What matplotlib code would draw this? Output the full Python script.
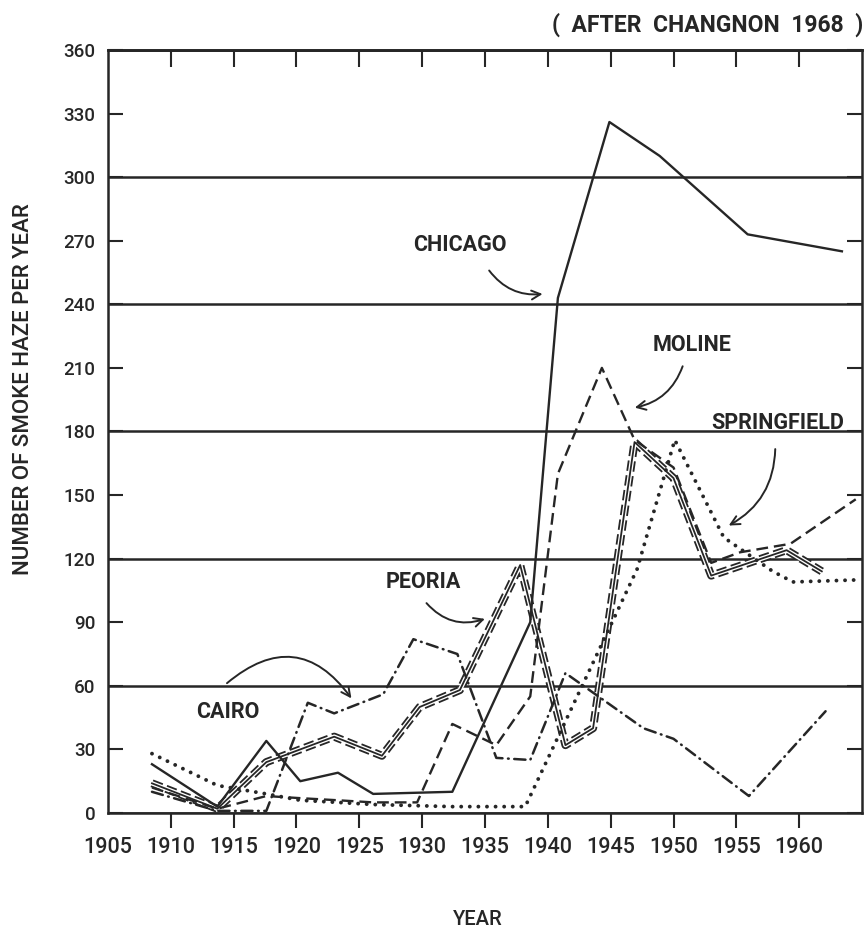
import matplotlib
matplotlib.use("Agg")
import matplotlib.pyplot as plt
from matplotlib.ticker import MultipleLocator

# smoke haze days per year
chicago_years = [1908.5, 1913.7, 1917.6, 1920.3, 1923.3, 1926.1, 1932.4, 1938.6, 1940.8, 1944.9, 1948.9, 1955.9, 1963.4]
chicago = [23, 3, 34, 15, 19, 9, 10, 90, 243, 326, 310, 273, 265]

moline_years = [1908.5, 1913.7, 1917.6, 1920.3, 1923.3, 1926.1, 1929.6, 1932.4, 1935.9, 1938.6, 1940.8, 1944.3, 1946.9, 1950.0, 1953.0, 1955.3, 1959.3, 1964.5]
moline = [12, 2, 8, 7, 6, 5, 5, 42, 32, 55, 160, 210, 176, 163, 118, 123, 127, 148]

peoria_years = [1908.5, 1913.7, 1917.6, 1920.3, 1923.0, 1926.8, 1929.8, 1933.0, 1937.8, 1941.4, 1943.6, 1946.9, 1950.0, 1953.0, 1959.0, 1961.8]
peoria = [14, 2, 24, 30, 36, 27, 50, 58, 117, 32, 40, 175, 158, 112, 124, 114]

springfield_years = [1908.5, 1913.7, 1917.6, 1920.3, 1923.3, 1926.1, 1932.4, 1938.2, 1947.1, 1950.1, 1954.0, 1957.9, 1959.5, 1964.8]
springfield = [28, 13, 9, 6, 5, 4, 3, 3, 115, 176, 130, 114, 109, 110]

cairo_years = [1908.5, 1913.7, 1917.6, 1920.9, 1923.0, 1926.9, 1929.3, 1932.8, 1935.9, 1938.6, 1941.4, 1947.6, 1950.0, 1956.0, 1962.1]
cairo = [10, 1, 1, 52, 47, 56, 82, 75, 26, 25, 66, 40, 35, 8, 48]

year_ticks = list(range(1905, 1961, 5))
haze_ticks = list(range(0, 361, 30))

ink = "#262626"
face = ["Roboto", "DejaVu Sans"]

fig = plt.figure(figsize=(8.66, 9.32), dpi=100)
ax = fig.add_axes([0.1247, 0.1277, 0.8707, 0.8187])

# chicago - plain solid
ax.plot(chicago_years, chicago, color=ink, lw=1.7, zorder=5)

# moline - long dashes
ax.plot(moline_years, moline, color=ink, lw=1.7, linestyle=(0, (5, 2.5)), zorder=4)

# peoria - triple line (dashed edges, solid core)
ax.plot(peoria_years, peoria, color=ink, lw=5.8, linestyle=(0, (1.3, 0.55)), zorder=3)
ax.plot(peoria_years, peoria, color="white", lw=3.2, zorder=3)
ax.plot(peoria_years, peoria, color=ink, lw=1.3, zorder=3)

# springfield - dots
ax.plot(springfield_years, springfield, color=ink, lw=2.8, linestyle=(0, (0.01, 2.2)),
        dash_capstyle="round", zorder=4)

# cairo - dash dot
ax.plot(cairo_years, cairo, color=ink, lw=1.8, linestyle=(0, (4.5, 2.2, 0.3, 2.2)),
        dash_capstyle="round", zorder=4)

ax.set_xlim(1905, 1965)
ax.set_ylim(0, 360)

for s in ax.spines.values():
    s.set_linewidth(1.8)
    s.set_color(ink)

ax.set_yticks(haze_ticks)
ax.set_yticklabels([str(v) for v in haze_ticks])
ax.yaxis.set_minor_locator(MultipleLocator(60))
ax.yaxis.remove_overlapping_locs = False
ax.grid(which="minor", axis="y", color=ink, lw=1.8)
ax.tick_params(axis="y", which="major", direction="in", left=True, right=True,
               length=11, width=1.5, color=ink, pad=9, labelsize=13.5, labelcolor=ink)
ax.tick_params(axis="y", which="minor", length=0)

ax.set_xticks(year_ticks)
ax.set_xticklabels([str(y) for y in year_ticks])
ax.tick_params(axis="x", direction="out", length=11, width=1.5, color=ink, pad=6,
               labelsize=15.5, labelcolor=ink)
ax.xaxis.get_major_ticks()[0].tick1line.set_visible(False)

top = ax.secondary_xaxis("top")
top.set_xticks(year_ticks[1:])
top.tick_params(direction="in", length=12, width=1.5, color=ink, labeltop=False)
top.spines["top"].set_linewidth(1.8)

for lab in ax.get_xticklabels() + ax.get_yticklabels():
    lab.set_fontfamily(face)
    lab.set_fontweight("medium")

ax.set_ylabel("NUMBER OF SMOKE HAZE PER YEAR", fontsize=16, color=ink,
              fontfamily=face, fontweight="medium", va="center")
ax.yaxis.set_label_coords(-0.112, 0.555)
ax.set_xlabel("YEAR", fontsize=14.5, color=ink, fontfamily=face, fontweight="medium",
              va="center")
ax.xaxis.set_label_coords(0.49, -0.14)

fig.text(0.997, 0.973, "(  AFTER  CHANGNON  1968  )", ha="right", va="center",
         fontsize=16.5, fontweight="bold", color=ink, fontfamily=face)

lab_kw = dict(fontsize=15.5, fontweight="bold", color=ink, ha="center", va="center",
              fontfamily=face)
arr_kw = dict(arrowstyle="->", color=ink, lw=1.4, mutation_scale=16)

ax.text(1933.0, 268, "CHICAGO", **lab_kw)
ax.annotate("", xy=(1939.8, 245), xytext=(1935.2, 257),
            arrowprops=dict(connectionstyle="arc3,rad=0.3", **arr_kw))

ax.text(1951.5, 221, "MOLINE", **lab_kw)
ax.annotate("", xy=(1946.7, 191), xytext=(1950.8, 212),
            arrowprops=dict(connectionstyle="arc3,rad=-0.3", **arr_kw))

ax.text(1958.3, 184, "SPRINGFIELD", **lab_kw)
ax.annotate("", xy=(1954.2, 135), xytext=(1958.1, 173),
            arrowprops=dict(connectionstyle="arc3,rad=-0.3", **arr_kw))

ax.text(1930.1, 109, "PEORIA", **lab_kw)
ax.annotate("", xy=(1935.2, 92), xytext=(1930.2, 100),
            arrowprops=dict(connectionstyle="arc3,rad=0.35", **arr_kw))

ax.text(1914.5, 47.6, "CAIRO", **lab_kw)
ax.annotate("", xy=(1924.5, 53), xytext=(1914.3, 60.4),
            arrowprops=dict(connectionstyle="arc3,rad=-0.55", **arr_kw))

fig.savefig("out.png", dpi=100, facecolor="white")
